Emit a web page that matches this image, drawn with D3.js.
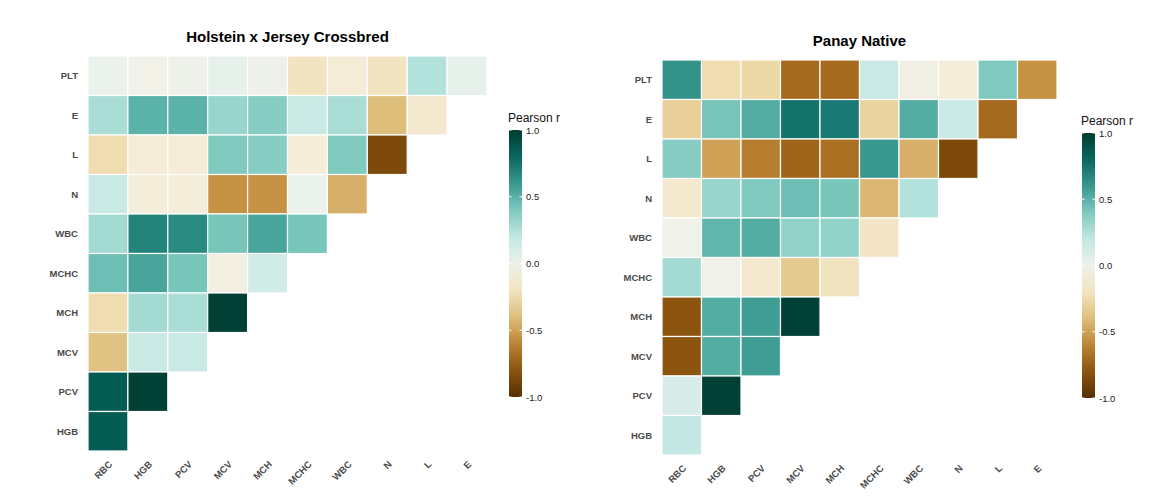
<!DOCTYPE html>
<html><head><meta charset="utf-8">
<script src="https://cdn.jsdelivr.net/npm/d3@7"></script>
<style>body{margin:0;background:#fff;font-family:"Liberation Sans",Arial,sans-serif}</style>
</head><body><svg id="chart" width="1163" height="498"></svg>
<script>
// rows top to bottom, columns left to right
var rowNames = ["PLT","E","L","N","WBC","MCHC","MCH","MCV","PCV","HGB"];
var colNames = ["RBC","HGB","PCV","MCV","MCH","MCHC","WBC","N","L","E"];

var holsteinValues = [
  [0.02,-0.03,0.0,0.05,0.0,-0.2,-0.12,-0.2,0.25,0.05],
  [0.28,0.5,0.5,0.33,0.38,0.18,0.28,-0.4,-0.15],
  [-0.25,-0.12,-0.12,0.4,0.38,-0.1,0.4,-0.85],
  [0.18,-0.1,-0.1,-0.55,-0.55,0.02,-0.45],
  [0.3,0.68,0.65,0.42,0.55,0.42],
  [0.45,0.55,0.42,-0.07,0.15],
  [-0.25,0.3,0.28,0.98],
  [-0.38,0.18,0.18],
  [0.85,0.98],
  [0.85]
];
var panayValues = [
  [0.62,-0.25,-0.28,-0.7,-0.7,0.18,-0.05,-0.1,0.4,-0.55],
  [-0.32,0.42,0.52,0.75,0.72,-0.3,0.52,0.17,-0.7],
  [0.38,-0.5,-0.62,-0.72,-0.68,0.6,-0.45,-0.85],
  [-0.15,0.33,0.4,0.45,0.42,-0.42,0.25],
  [-0.02,0.48,0.52,0.35,0.35,-0.18],
  [0.3,-0.02,-0.15,-0.35,-0.2],
  [-0.8,0.52,0.58,0.98],
  [-0.8,0.52,0.58],
  [0.12,0.98],
  [0.2]
];
var legendTicks = [-1.0,-0.5,0.0,0.5,1.0];

var svg = d3.select("#chart");
var color = function(v){ return d3.interpolateBrBG((v+1)/2); };

function panel(title, values, x0, x1, y0, y1, titleY, leg) {
  var g = svg.append("g");
  var x = d3.scaleBand().domain(colNames).range([x0,x1]);
  var y = d3.scaleBand().domain(rowNames).range([y0,y1]);
  var cells = [];
  values.forEach(function(row,i){ row.forEach(function(v,j){ cells.push({r:rowNames[i],c:colNames[j],v:v}); }); });
  g.selectAll("rect").data(cells).enter().append("rect")
    .attr("x", d=>x(d.c)).attr("y", d=>y(d.r))
    .attr("width", x.bandwidth()).attr("height", y.bandwidth())
    .attr("fill", d=>color(d.v)).attr("stroke","#fff").attr("stroke-width",1.2);
  g.append("text").attr("x",(x0+x1)/2).attr("y",titleY).attr("text-anchor","middle")
    .attr("font-size",15).attr("font-weight","bold").text(title);
  g.selectAll(".rl").data(rowNames).enter().append("text")
    .attr("x", x0-10).attr("y", d=>y(d)+y.bandwidth()/2+3.5).attr("text-anchor","end")
    .attr("font-size",9.5).attr("font-weight","bold").attr("fill","#4a4a4a").text(d=>d);
  g.selectAll(".cl").data(colNames).enter().append("text")
    .attr("transform", d=>"translate("+(x(d)+x.bandwidth()/2+5)+","+(y1+14)+") rotate(-45)")
    .attr("text-anchor","end").attr("font-size",9.5).attr("font-weight","bold").attr("fill","#4a4a4a").text(d=>d);

  // legend
  var ly = d3.scaleLinear().domain([-1,1]).range([leg.y1, leg.y0]);
  var gid = "grad"+leg.x;
  var grad = svg.append("defs").append("linearGradient").attr("id",gid)
    .attr("x1",0).attr("y1",1).attr("x2",0).attr("y2",0);
  d3.range(0,1.01,0.1).forEach(function(t){
    grad.append("stop").attr("offset",t).attr("stop-color",d3.interpolateBrBG(t));
  });
  g.append("rect").attr("x",leg.x).attr("y",leg.y0).attr("width",13).attr("height",leg.y1-leg.y0)
    .attr("fill","url(#"+gid+")");
  g.selectAll(".lt").data(legendTicks).enter().append("line")
    .attr("x1",leg.x).attr("x2",leg.x+2.5).attr("y1",d=>ly(d)).attr("y2",d=>ly(d)).attr("stroke","#fff");
  g.selectAll(".lt2").data(legendTicks).enter().append("line")
    .attr("x1",leg.x+10.5).attr("x2",leg.x+13).attr("y1",d=>ly(d)).attr("y2",d=>ly(d)).attr("stroke","#fff");
  g.selectAll(".ll").data(legendTicks).enter().append("text")
    .attr("x",leg.x+17).attr("y",d=>ly(d)+3.5).attr("font-size",9.5).attr("fill","#222")
    .text(d=>d.toFixed(1));
  g.append("text").attr("x",leg.x-1).attr("y",leg.y0-8).attr("font-size",12).attr("fill","#111").text("Pearson r");
}

panel("Holstein x Jersey Crossbred", holsteinValues, 88, 487, 56, 451, 42, {x:509,y0:130,y1:397});
panel("Panay Native", panayValues, 662, 1057, 60, 455, 46, {x:1082,y0:133,y1:398});
</script></body></html>
